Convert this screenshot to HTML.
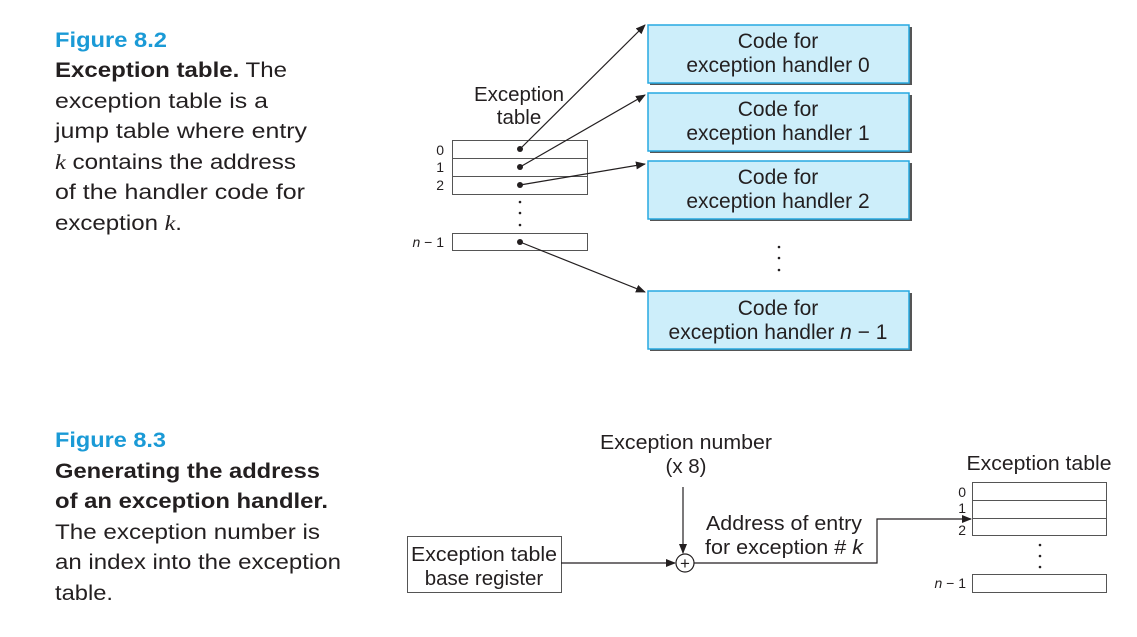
<!DOCTYPE html>
<html><head><style>
html,body{margin:0;padding:0;background:#fff;}
svg{display:block;}
text{font-family:"Liberation Sans",sans-serif;}
</style></head><body>
<svg width="1137" height="637" viewBox="0 0 1137 637" xmlns="http://www.w3.org/2000/svg">
<defs>
<marker id="ah" markerWidth="10" markerHeight="8" refX="9" refY="4" orient="auto" markerUnits="userSpaceOnUse">
<path d="M0,0 L10,4 L0,8 z" fill="#231f20"/>
</marker>
</defs>
<g font-size="21" fill="#231f20">
<text x="55" y="47" fill="#1a9ad6" font-weight="bold" textLength="112" lengthAdjust="spacingAndGlyphs">Figure 8.2</text>
<text x="55" y="77" textLength="232" lengthAdjust="spacingAndGlyphs"><tspan font-weight="bold">Exception table.</tspan> The</text>
<text x="55" y="108" textLength="213" lengthAdjust="spacingAndGlyphs">exception table is a</text>
<text x="55" y="138" textLength="252" lengthAdjust="spacingAndGlyphs">jump table where entry</text>
<text x="55" y="169" textLength="241" lengthAdjust="spacingAndGlyphs"><tspan font-family="Liberation Serif" font-style="italic">k</tspan> contains the address</text>
<text x="55" y="199" textLength="250" lengthAdjust="spacingAndGlyphs">of the handler code for</text>
<text x="55" y="230" textLength="127" lengthAdjust="spacingAndGlyphs">exception <tspan font-family="Liberation Serif" font-style="italic">k</tspan>.</text>

<text x="55" y="447" fill="#1a9ad6" font-weight="bold" textLength="111" lengthAdjust="spacingAndGlyphs">Figure 8.3</text>
<text x="55" y="478" font-weight="bold" textLength="265" lengthAdjust="spacingAndGlyphs">Generating the address</text>
<text x="55" y="508" font-weight="bold" textLength="273" lengthAdjust="spacingAndGlyphs">of an exception handler.</text>
<text x="55" y="539" textLength="265" lengthAdjust="spacingAndGlyphs">The exception number is</text>
<text x="55" y="569" textLength="286" lengthAdjust="spacingAndGlyphs">an index into the exception</text>
<text x="55" y="600" textLength="58" lengthAdjust="spacingAndGlyphs">table.</text>
</g>

<g font-size="20.5" fill="#231f20" text-anchor="middle">
<text x="519" y="101">Exception</text>
<text x="519" y="124">table</text>
</g>
<g fill="none" stroke="#555" stroke-width="1">
<rect x="452.5" y="140.5" width="135" height="54"/>
<line x1="452" y1="158.5" x2="587" y2="158.5"/>
<line x1="452" y1="176.5" x2="587" y2="176.5"/>
<rect x="452.5" y="233.5" width="135" height="17"/>
</g>
<g font-size="14" fill="#231f20" text-anchor="end">
<text x="444" y="155">0</text>
<text x="444" y="172">1</text>
<text x="444" y="190">2</text>
<text x="444" y="247"><tspan font-style="italic">n</tspan> − 1</text>
</g>
<g fill="#231f20">
<circle cx="520" cy="149" r="3"/><circle cx="520" cy="167" r="3"/><circle cx="520" cy="185" r="3"/><circle cx="520" cy="242" r="3"/>
<circle cx="520" cy="202" r="1.3"/><circle cx="520" cy="213" r="1.3"/><circle cx="520" cy="225" r="1.3"/>
<circle cx="779" cy="247" r="1.3"/><circle cx="779" cy="258" r="1.3"/><circle cx="779" cy="270" r="1.3"/>
</g>
<g stroke="#231f20" stroke-width="1.2" marker-end="url(#ah)">
<line x1="520" y1="149" x2="645" y2="25"/>
<line x1="520" y1="167" x2="645" y2="95"/>
<line x1="520" y1="185" x2="645" y2="164"/>
<line x1="520" y1="242" x2="645" y2="292"/>
</g>
<g>
<rect x="650" y="27" width="262" height="58" fill="#555"/>
<rect x="648" y="25" width="261" height="58" fill="#cdeefa" stroke="#27a9e1" stroke-width="1.5"/>
<rect x="650" y="95" width="262" height="58" fill="#555"/>
<rect x="648" y="93" width="261" height="58" fill="#cdeefa" stroke="#27a9e1" stroke-width="1.5"/>
<rect x="650" y="163" width="262" height="58" fill="#555"/>
<rect x="648" y="161" width="261" height="58" fill="#cdeefa" stroke="#27a9e1" stroke-width="1.5"/>
<rect x="650" y="293" width="262" height="58" fill="#555"/>
<rect x="648" y="291" width="261" height="58" fill="#cdeefa" stroke="#27a9e1" stroke-width="1.5"/>
</g>
<g font-size="21" fill="#231f20" text-anchor="middle">
<text x="778" y="48">Code for</text><text x="778" y="72">exception handler 0</text>
<text x="778" y="116">Code for</text><text x="778" y="140">exception handler 1</text>
<text x="778" y="184">Code for</text><text x="778" y="208">exception handler 2</text>
<text x="778" y="315">Code for</text><text x="778" y="339">exception handler <tspan font-style="italic">n</tspan> − 1</text>
</g>

<g font-size="20.5" fill="#231f20" text-anchor="middle">
<text x="686" y="449" textLength="172" lengthAdjust="spacingAndGlyphs">Exception number</text>
<text x="686" y="473">(x 8)</text>
<text x="484" y="561" textLength="146" lengthAdjust="spacingAndGlyphs">Exception table</text>
<text x="484" y="585">base register</text>
<text x="784" y="530" textLength="156" lengthAdjust="spacingAndGlyphs">Address of entry</text>
<text x="784" y="554" textLength="158" lengthAdjust="spacingAndGlyphs">for exception # <tspan font-style="italic">k</tspan></text>
<text x="1039" y="470" textLength="145" lengthAdjust="spacingAndGlyphs">Exception table</text>
</g>
<rect x="407.5" y="536.5" width="154" height="56" fill="none" stroke="#555" stroke-width="1"/>
<circle cx="685" cy="563" r="9" fill="none" stroke="#231f20" stroke-width="1.2"/>
<text x="685" y="569" font-size="17" text-anchor="middle" fill="#231f20">+</text>
<g stroke="#231f20" stroke-width="1.2" fill="none">
<line x1="683" y1="487" x2="683" y2="553" marker-end="url(#ah)"/>
<line x1="561" y1="563" x2="675" y2="563" marker-end="url(#ah)"/>
<polyline points="694,563 877,563 877,519 971,519" marker-end="url(#ah)"/>
</g>
<g fill="none" stroke="#555" stroke-width="1">
<rect x="972.5" y="482.5" width="134" height="53"/>
<line x1="972" y1="500.5" x2="1107" y2="500.5"/>
<line x1="972" y1="518.5" x2="1107" y2="518.5"/>
<rect x="972.5" y="574.5" width="134" height="18"/>
</g>
<g font-size="14" fill="#231f20" text-anchor="end">
<text x="966" y="497">0</text>
<text x="966" y="513">1</text>
<text x="966" y="535">2</text>
<text x="966" y="588"><tspan font-style="italic">n</tspan> − 1</text>
</g>
<g fill="#231f20">
<circle cx="1040" cy="545" r="1.3"/><circle cx="1040" cy="556" r="1.3"/><circle cx="1040" cy="567" r="1.3"/>
</g>
</svg>
</body></html>
